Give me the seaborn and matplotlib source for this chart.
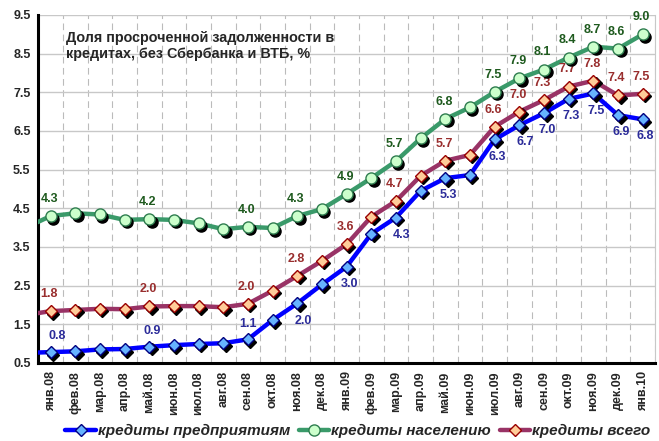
import numpy as np
import pandas as pd
import matplotlib
matplotlib.use("Agg")
import matplotlib.pyplot as plt
import matplotlib.transforms as mtransforms
from matplotlib.lines import Line2D
import seaborn as sns

# months (first one is the lead-in point, clipped at the axis edge)
months = ["дек.07",
          "янв.08", "фев.08", "мар.08", "апр.08", "май.08", "июн.08", "июл.08",
          "авг.08", "сен.08", "окт.08", "ноя.08", "дек.08",
          "янв.09", "фев.09", "мар.09", "апр.09", "май.09", "июн.09", "июл.09",
          "авг.09", "сен.09", "окт.09", "ноя.09", "дек.09", "янв.10"]

corp = [0.76,
        0.78, 0.80, 0.85, 0.86, 0.92, 0.96, 0.99, 1.01, 1.11, 1.61, 2.04, 2.53,
        2.99, 3.84, 4.26, 4.95, 5.28, 5.36, 6.28, 6.65, 6.96, 7.33, 7.47, 6.91, 6.80]
retail = [4.00,
          4.30, 4.37, 4.34, 4.20, 4.22, 4.20, 4.11, 3.96, 4.02, 3.99, 4.30, 4.48,
          4.87, 5.28, 5.72, 6.31, 6.81, 7.11, 7.51, 7.86, 8.09, 8.40, 8.68, 8.63, 9.00]
total = [1.74,
         1.84, 1.87, 1.90, 1.89, 1.96, 1.97, 1.97, 1.94, 2.03, 2.37, 2.75, 3.14,
         3.57, 4.28, 4.69, 5.34, 5.73, 5.88, 6.61, 7.00, 7.30, 7.65, 7.80, 7.42, 7.46]

# which points get a value label (index into months)
label_idx = [1, 5, 9, 11, 13, 15, 17, 19, 20, 21, 22, 23, 24, 25]

series_names = ["кредиты предприятиям", "кредиты населению", "кредиты всего"]

x = np.arange(len(months)) - 1
df = pd.DataFrame({"x": np.tile(x, 3),
                   "val": corp + retail + total,
                   "series": np.repeat(series_names, len(months))})

sns.set_style("white")
plt.rcParams["font.family"] = ["Liberation Sans", "DejaVu Sans"]

fig = plt.figure(figsize=(6.59, 4.41), dpi=100)
ax = fig.add_axes([0.058, 0.177, 0.936, 0.789])

styles = {
    "кредиты предприятиям": dict(line="#0000FF", face="#66B3FF", edge="#000080", marker="D", ms=6.5, lbl="#2B2B99"),
    "кредиты населению": dict(line="#3A9A6A", face="#CCFFCC", edge="#2E7D4F", marker="o", ms=8, lbl="#1E5A1E"),
    "кредиты всего": dict(line="#993366", face="#FFCC99", edge="#990000", marker="D", ms=6.5, lbl="#992E2E"),
}
palette = {k: v["line"] for k, v in styles.items()}

sns.lineplot(data=df, x="x", y="val", hue="series", palette=palette,
             linewidth=3.2, legend=False, ax=ax, zorder=3)

shadow = mtransforms.offset_copy(ax.transData, fig=fig, x=1.8, y=-1.8, units="points")
for name in series_names:
    st = styles[name]
    sub = df[df["series"] == name]
    sub = sub[sub["x"] >= 0]
    ax.plot(sub["x"], sub["val"], ls="none", marker=st["marker"], ms=st["ms"],
            mfc="black", mec="black", transform=shadow, zorder=4)
    ax.plot(sub["x"], sub["val"], ls="none", marker=st["marker"], ms=st["ms"],
            mfc=st["face"], mec=st["edge"], mew=1.0, zorder=5)

# value labels
for i in label_idx:
    ax.annotate(f"{retail[i]:.1f}", (x[i], retail[i]), xytext=(-1, 8),
                textcoords="offset points", ha="center", va="bottom",
                fontsize=9, fontweight="bold", color=styles["кредиты населению"]["lbl"])
    ax.annotate(f"{total[i]:.1f}", (x[i], total[i]), xytext=(-1, 8),
                textcoords="offset points", ha="center", va="bottom",
                fontsize=9, fontweight="bold", color=styles["кредиты всего"]["lbl"])
    if i == 1:
        off, va = (5, 7), "bottom"
    elif i == 5:
        off, va = (2, 7), "bottom"
    elif i == 9:
        off, va = (0, 7), "bottom"
    elif i in (11, 15, 20):
        off, va = (4, -8), "top"
    else:
        off, va = (2, -8), "top"
    ax.annotate(f"{corp[i]:.1f}", (x[i], corp[i]), xytext=off,
                textcoords="offset points", ha="center", va=va,
                fontsize=9, fontweight="bold", color=styles["кредиты предприятиям"]["lbl"])

ax.set_xlim(-0.5, 24.5)
ax.set_ylim(0.5, 9.5)
ax.set_yticks(np.arange(0.5, 9.6, 1.0))
ax.set_yticklabels([f"{v:.1f}" for v in np.arange(0.5, 9.6, 1.0)], fontsize=9, fontweight="bold")
ax.set_xticks(x[1:])
ax.set_xticklabels(months[1:], rotation=90, fontsize=9, fontweight="bold")
ax.tick_params(axis="x", length=0, pad=6)
ax.tick_params(axis="y", length=4, width=1.5, direction="inout", color="black")
ax.set_xticks(np.arange(-0.5, 24.6, 1.0), minor=True)
ax.tick_params(axis="x", which="minor", length=5, width=1.5, direction="out", color="black")
ax.grid(axis="y", color="#C8C8C8", lw=1.0, zorder=0)
ax.grid(axis="x", which="minor", color="#BBBBBB", lw=0.8, ls=(0, (6, 4)), zorder=0)
ax.set_xlabel("")
ax.set_ylabel("")

for s in ["left", "bottom"]:
    ax.spines[s].set_color("black")
    ax.spines[s].set_linewidth(2.2)
ax.spines["top"].set_visible(False)
ax.spines["right"].set_color("#C8C8C8")

ax.text(0.045, 0.955, "Доля просроченной задолженности в\nкредитах, без Сбербанка и ВТБ, %",
        transform=ax.transAxes, ha="left", va="top", fontsize=10.4, fontweight="bold",
        linespacing=1.25, zorder=6)

handles = [Line2D([0], [0], color=styles[n]["line"], lw=3.2, marker=styles[n]["marker"],
                  ms=styles[n]["ms"], mfc=styles[n]["face"], mec=styles[n]["edge"])
           for n in series_names]
fig.legend(handles, series_names, loc="lower center", bbox_to_anchor=(0.543, -0.025),
           ncol=3, frameon=False, handlelength=2.0, handletextpad=0.1, columnspacing=0.6,
           prop={"size": 11, "style": "italic", "weight": "bold"})

fig.savefig("out.png", dpi=100)
